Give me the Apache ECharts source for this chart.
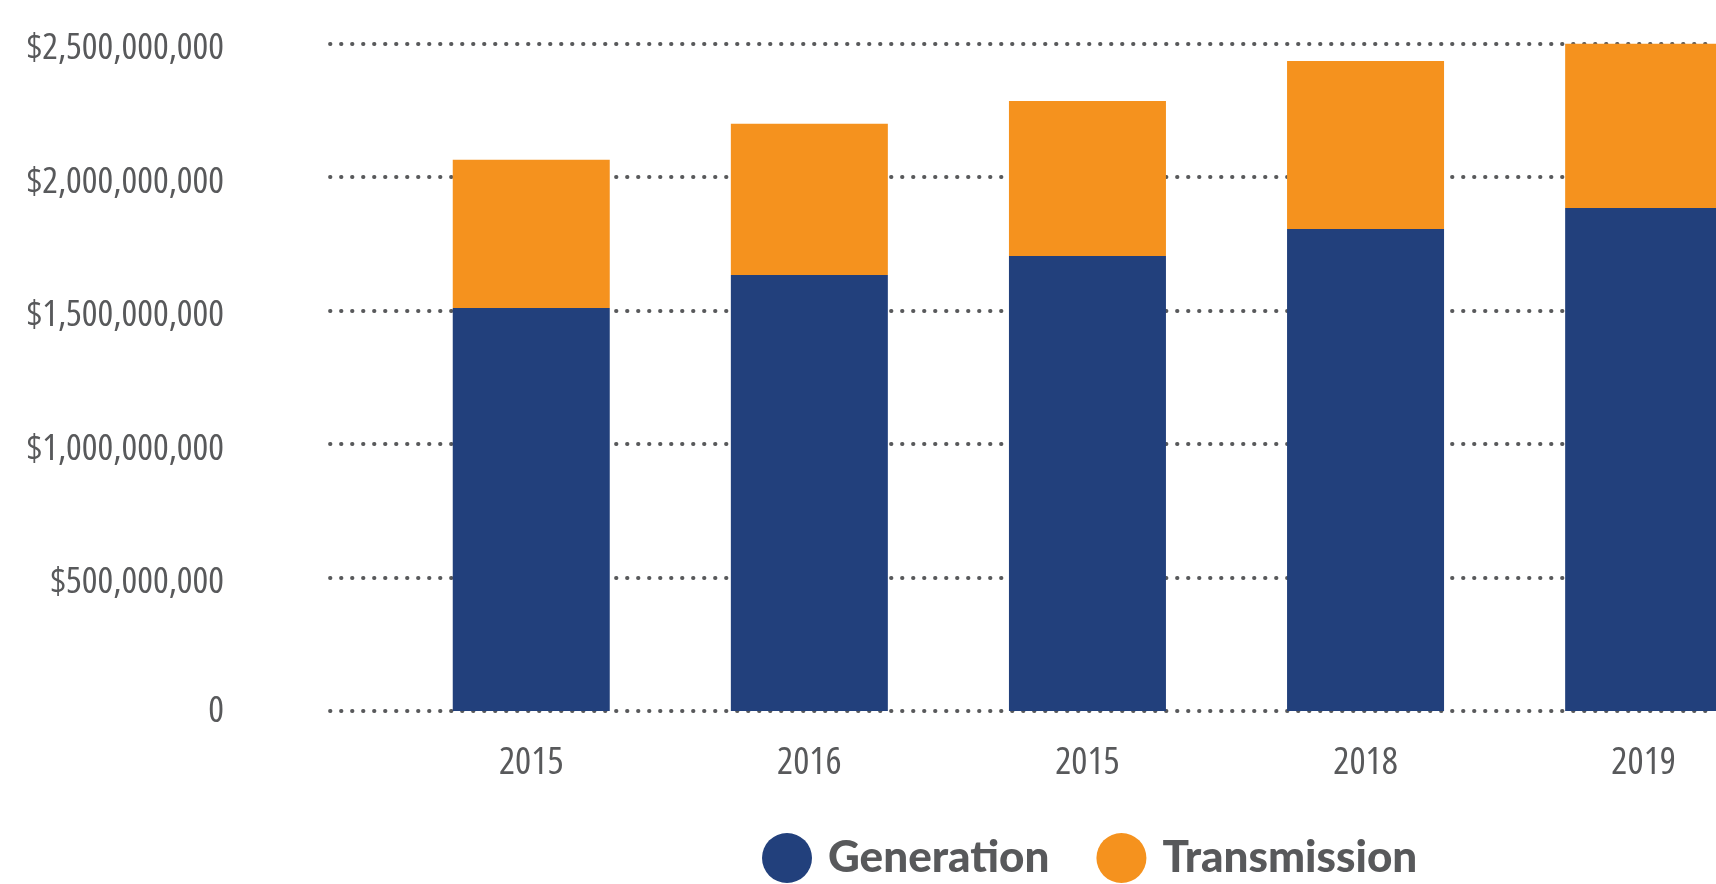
<!DOCTYPE html>
<html>
<head>
<meta charset="utf-8">
<script src="https://cdn.jsdelivr.net/npm/echarts@6/dist/echarts.min.js"></script>
<style>
  html, body { margin: 0; padding: 0; background: #ffffff; }
  #chart { width: 1716px; height: 884px; }
</style>
</head>
<body>
<div id="chart"></div>
<script>
// ---- data ----
const categories = ['2015', '2016', '2015', '2018', '2019'];
const generation = [1510000000, 1633000000, 1705000000, 1806000000, 1884000000];
const transmission = [555000000, 567000000, 580000000, 629000000, 622000000];
const seriesNames = ['Generation', 'Transmission'];
const yTicks = [0, 500000000, 1000000000, 1500000000, 2000000000, 2500000000];
const yTickLabels = ['0', '$500,000,000', '$1,000,000,000', '$1,500,000,000', '$2,000,000,000', '$2,500,000,000'];

// ---- styles ----
const NAVY = '#22407C';
const ORANGE = '#F5921E';
const GRAY = '#58595B';
const condFamily = '"Open Sans", sans-serif';
const condStretch = 'condensed';   // goes into the canvas font shorthand
const yFont = { color: GRAY, fontFamily: condFamily, fontWeight: condStretch, fontSize: 37 };

const chart = echarts.init(document.getElementById('chart'), null, { renderer: 'canvas' });

const yMin = yTicks[0], yMax = yTicks[yTicks.length - 1], yStep = yTicks[1] - yTicks[0];

chart.setOption({
  backgroundColor: '#ffffff',
  animation: false,
  grid: [
    { left: 328, right: 0, top: 43.7, bottom: 173, containLabel: false, outerBoundsMode: 'none' },
    { left: 392.2, width: 1390.5, top: 43.7, bottom: 173, containLabel: false, outerBoundsMode: 'none' }
  ],
  xAxis: [
    { gridIndex: 0, type: 'value', show: false, min: 0, max: 1 },
    {
      gridIndex: 1, type: 'category', data: categories,
      axisLine: { show: false }, axisTick: { show: false },
      axisLabel: { color: GRAY, fontFamily: condFamily, fontWeight: condStretch, fontSize: 38, margin: 33 }
    }
  ],
  yAxis: [
    {
      gridIndex: 0, type: 'value', min: yMin, max: yMax, interval: yStep,
      axisLine: { show: false }, axisTick: { show: false },
      axisLabel: Object.assign({}, yFont, {
        margin: 104,
        formatter: function (v) {
          const i = yTicks.indexOf(v);
          if (i < 0) return '';
          return i === 0 ? yTickLabels[i] : '{d|' + yTickLabels[i] + '}';
        },
        rich: { d: Object.assign({}, yFont, { padding: [10, 0, 0, 0] }) }
      }),
      splitLine: {
        show: true,
        lineStyle: { color: GRAY, width: 3.8, type: [0.5, 10.5], cap: 'round', dashOffset: -2 }
      }
    },
    {
      gridIndex: 1, type: 'value', min: yMin, max: yMax, interval: yStep, show: false,
      splitLine: { show: false }
    }
  ],
  legend: {
    left: 762, top: 833, padding: 0,
    itemWidth: 50, itemHeight: 50, itemGap: 47, icon: 'circle',
    data: seriesNames,
    textStyle: { color: GRAY, fontFamily: 'Lato, "Noto Sans", sans-serif', fontWeight: 900, fontSize: 44, padding: [0, 0, 0, 11] }
  },
  series: [
    {
      name: seriesNames[0], type: 'bar', stack: 'total', xAxisIndex: 1, yAxisIndex: 1,
      data: generation, barWidth: 157, itemStyle: { color: NAVY }
    },
    {
      name: seriesNames[1], type: 'bar', stack: 'total', xAxisIndex: 1, yAxisIndex: 1,
      data: transmission, barWidth: 157, itemStyle: { color: ORANGE }
    }
  ]
});
</script>
</body>
</html>
